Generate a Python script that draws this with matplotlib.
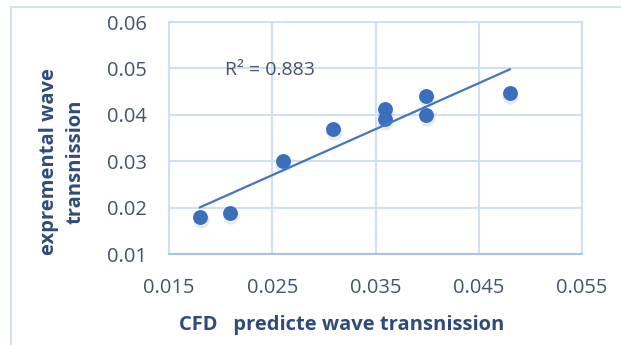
import matplotlib
matplotlib.use("Agg")
import matplotlib.pyplot as plt
import matplotlib.transforms as mtransforms
from matplotlib.patches import Rectangle
import numpy as np

x_vals = [0.0180, 0.0209, 0.0260, 0.0309, 0.0359, 0.0359, 0.0399, 0.0399, 0.0480]
y_vals = [0.0179, 0.0189, 0.0300, 0.0369, 0.0412, 0.0391, 0.0440, 0.0399, 0.0448]
x_ticks = [0.015, 0.025, 0.035, 0.045, 0.055]
x_tick_labels = ["0.015", "0.025", "0.035", "0.045", "0.055"]
y_ticks = [0.01, 0.02, 0.03, 0.04, 0.05, 0.06]
y_tick_labels = ["0.01", "0.02", "0.03", "0.04", "0.05", "0.06"]
r2_label = "R² = 0.883"
x_label = "CFD   predicte wave transnission"
y_label = "expremental wave\ntransnission"

plt.rcParams['font.family'] = ['Open Sans', 'DejaVu Sans']

fig = plt.figure(figsize=(6.21, 3.45), dpi=100)
# outer chart border
fig.patches.append(Rectangle((11/621, -0.1), 1.2, 1 - 7/345 + 0.1, transform=fig.transFigure,
                             fill=False, edgecolor='#d5e2f3', linewidth=1.5))

ax = fig.add_axes([169/621, 1 - 254/345, (582 - 169)/621, (254 - 22)/345])
ax.set_xlim(0.015, 0.055)
ax.set_ylim(0.01, 0.06)
grid_c = '#d0dff2'
ax.set_xticks(x_ticks)
ax.set_xticklabels(x_tick_labels)
ax.set_yticks(y_ticks)
ax.set_yticklabels(y_tick_labels)
ax.grid(True, color=grid_c, linewidth=1.5)
ax.set_axisbelow(True)
for s in ['top', 'right', 'left']:
    ax.spines[s].set_color(grid_c)
    ax.spines[s].set_linewidth(1.5)
ax.spines['bottom'].set_color('#a9c2e6')
ax.spines['bottom'].set_linewidth(1.5)
ax.tick_params(length=0, labelsize=14.5, colors='#44546a')
ax.tick_params(axis='y', pad=16)
ax.tick_params(axis='x', pad=17)

# shadow
shadow = mtransforms.offset_copy(ax.transData, fig=fig, x=0.5, y=-2.2, units='points')
ax.scatter(x_vals, y_vals, s=135, color='#8c8c8c', alpha=0.18, transform=shadow,
           linewidths=0, zorder=2)
ax.scatter(x_vals, y_vals, s=115, color='#3a70bb', linewidths=0, zorder=3)

# trendline
coef = np.polyfit(x_vals, y_vals, 1)
xl = np.array([min(x_vals), max(x_vals)])
ax.plot(xl, np.polyval(coef, xl), color='#4177c0', linewidth=1.6, zorder=4)

ax.text(0.02042, 0.04966, r2_label, fontsize=14, color='#44546a', va='center', ha='left')

fig.text(341.5/621, 1 - 325/345, x_label, fontsize=14.5, fontweight='bold',
         color='#2e4b7a', ha='center', va='center')
fig.text(62.5/621, 1 - 162/345, y_label, fontsize=14.5, fontweight='bold', color='#2e4b7a',
         rotation=90, ha='center', va='center', multialignment='center', linespacing=1.45)

fig.savefig("out.png", dpi=100)
